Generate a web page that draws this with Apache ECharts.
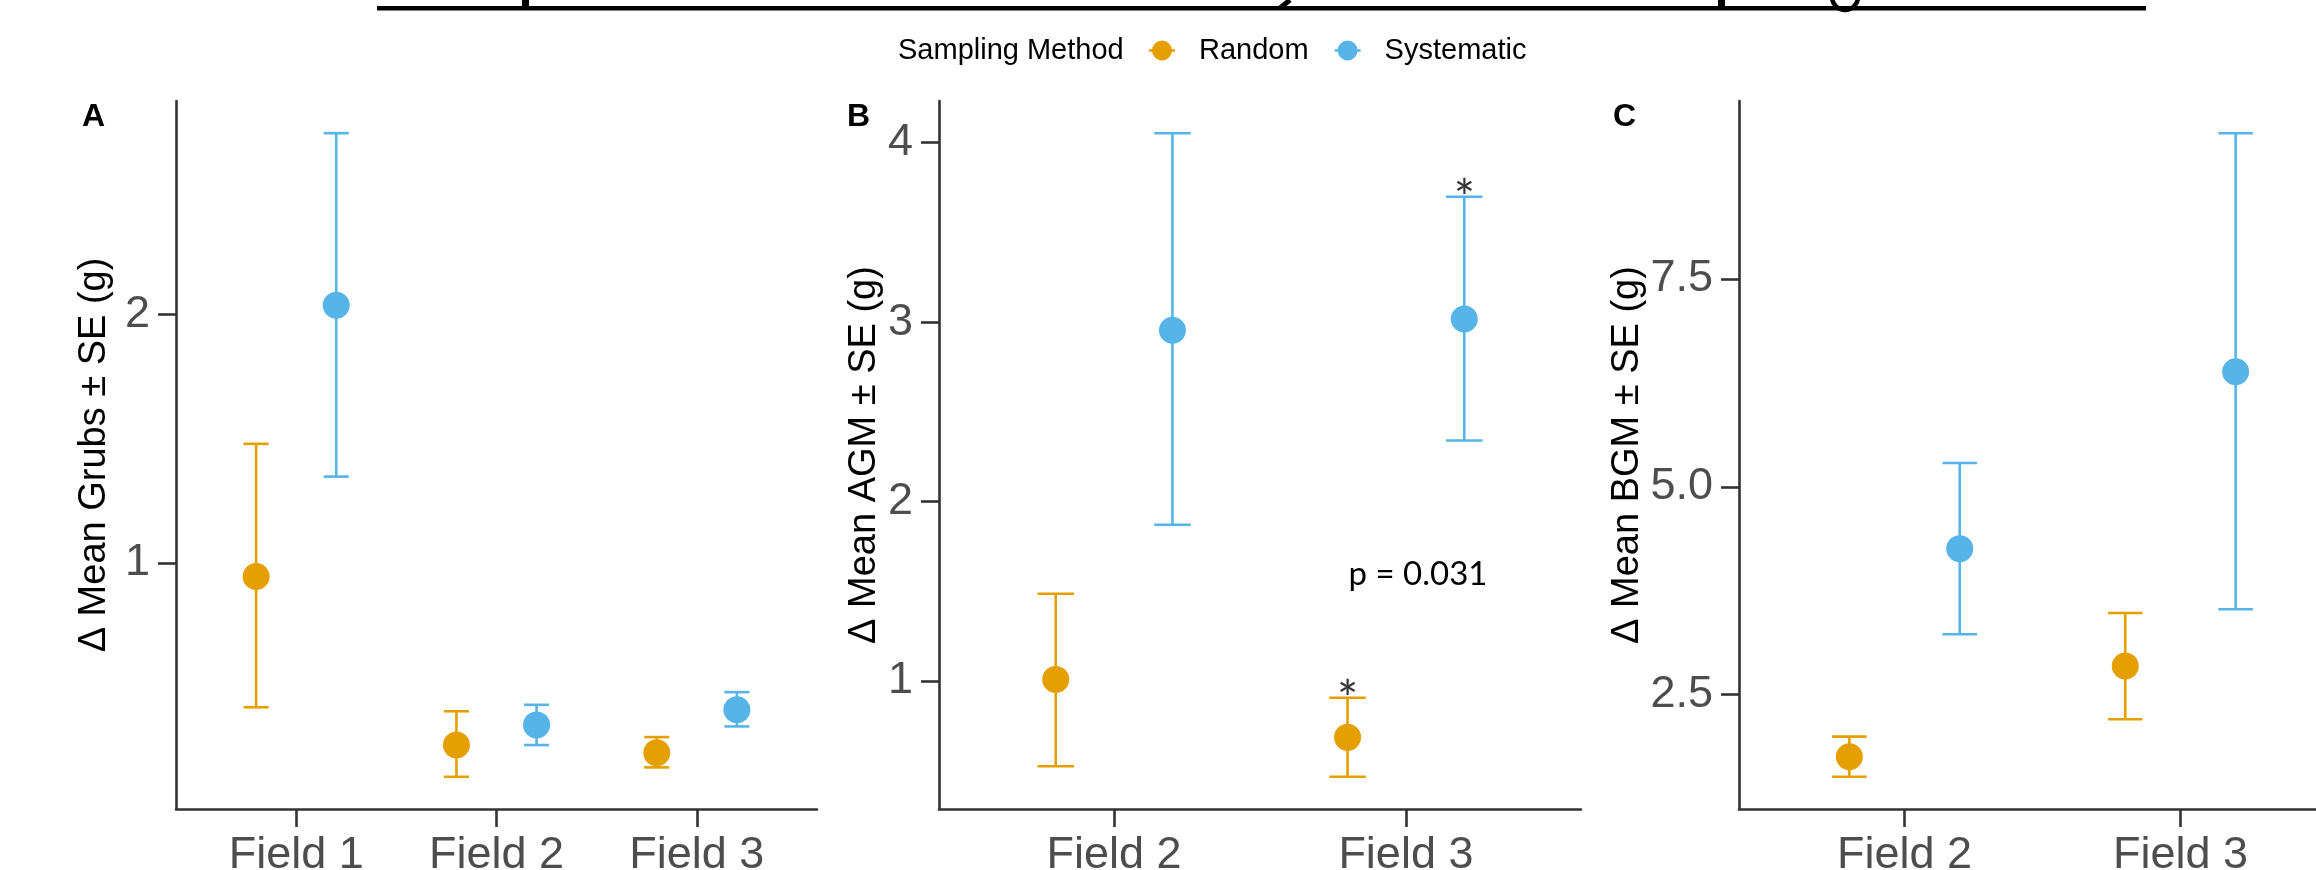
<!DOCTYPE html>
<html>
<head>
<meta charset="utf-8">
<script src="https://cdn.jsdelivr.net/npm/echarts@6/dist/echarts.min.js"></script>
<style>
  html, body { margin: 0; padding: 0; background: #fff; }
  #chart { width: 2316px; height: 870px; }
</style>
</head>
<body>
<div id="chart"></div>
<script>
// ---------------- DATA ----------------
const fieldsA = ['Field 1', 'Field 2', 'Field 3'];
const fieldsBC = ['Field 2', 'Field 3'];
const methods = ['Random', 'Systematic'];

// Panel A: Δ Mean Grubs ± SE (g)
const grubsRandomMean = [0.945, 0.266, 0.235];
const grubsRandomLow  = [0.418, 0.138, 0.176];
const grubsRandomHigh = [1.479, 0.402, 0.298];
const grubsSystMean   = [2.037, 0.347, 0.408];
const grubsSystLow    = [1.347, 0.266, 0.341];
const grubsSystHigh   = [2.730, 0.428, 0.479];

// Panel B: Δ Mean AGM ± SE (g)
const agmRandomMean = [1.009, 0.686];
const agmRandomLow  = [0.525, 0.466];
const agmRandomHigh = [1.486, 0.907];
const agmSystMean   = [2.955, 3.017];
const agmSystLow    = [1.871, 2.340];
const agmSystHigh   = [4.053, 3.699];

// Panel C: Δ Mean BGM ± SE (g)
const bgmRandomMean = [1.754, 2.845];
const bgmRandomLow  = [1.512, 2.205];
const bgmRandomHigh = [1.995, 3.483];
const bgmSystMean   = [4.256, 6.383];
const bgmSystLow    = [3.227, 3.528];
const bgmSystHigh   = [5.286, 9.253];

// Tick labels
const yTicksA = [1, 2];
const yTicksB = [1, 2, 3, 4];
const yTicksC = [2.5, 5.0, 7.5];

// Significance annotations (panel B, Field 3)
const starFlagsRandomB = [false, true];
const starFlagsSystB   = [false, true];
const pValueText = 'p = 0.031';

// ---------------- STYLE ----------------
const ORANGE = '#E69F00';
const BLUE = '#56B4E9';
const AXIS_COLOR = '#333333';
const LABEL_COLOR = '#4D4D4D';
const FONT = '"Liberation Sans", Arial, sans-serif';
const DODGE = 0.2;
const CAP_HALF = 0.0625;

const chart = echarts.init(document.getElementById('chart'), null, { renderer: 'canvas' });

function yRange(lows, highs) {
  const lo = Math.min(...lows), hi = Math.max(...highs);
  const pad = (hi - lo) * 0.05;
  return [lo - pad, hi + pad];
}

const panels = [
  { fields: fieldsA, title: 'Δ Mean Grubs ± SE (g)', ticks: yTicksA, fmt: v => String(v), nameGap: 62,
    grid: { left: 176, right: 1499, top: 101, bottom: 61 },
    r: [grubsRandomMean, grubsRandomLow, grubsRandomHigh], s: [grubsSystMean, grubsSystLow, grubsSystHigh] },
  { fields: fieldsBC, title: 'Δ Mean AGM ± SE (g)', ticks: yTicksB, fmt: v => String(v), nameGap: 55,
    grid: { left: 939, right: 735, top: 101, bottom: 61 },
    r: [agmRandomMean, agmRandomLow, agmRandomHigh], s: [agmSystMean, agmSystLow, agmSystHigh] },
  { fields: fieldsBC, title: 'Δ Mean BGM ± SE (g)', ticks: yTicksC, fmt: v => v.toFixed(1), nameGap: 92,
    grid: { left: 1739, right: -30, top: 101, bottom: 61 },
    r: [bgmRandomMean, bgmRandomLow, bgmRandomHigh], s: [bgmSystMean, bgmSystLow, bgmSystHigh] }
];

const grids = [], xAxes = [], yAxes = [], series = [];

function errorBarRender(color) {
  return function (params, api) {
    const x = api.value(0), lo = api.value(1), hi = api.value(2);
    const pTop = api.coord([x, hi]);
    const pBot = api.coord([x, lo]);
    const half = api.coord([x + CAP_HALF, hi])[0] - pTop[0];
    const st = { stroke: color, lineWidth: 2.6 };
    return {
      type: 'group',
      children: [
        { type: 'line', shape: { x1: pTop[0], y1: pTop[1], x2: pBot[0], y2: pBot[1] }, style: st },
        { type: 'line', shape: { x1: pTop[0] - half, y1: pTop[1], x2: pTop[0] + half, y2: pTop[1] }, style: st },
        { type: 'line', shape: { x1: pBot[0] - half, y1: pBot[1], x2: pBot[0] + half, y2: pBot[1] }, style: st }
      ]
    };
  };
}

panels.forEach((p, i) => {
  const n = p.fields.length;
  const [ymin, ymax] = yRange(p.r[1].concat(p.s[1]), p.r[2].concat(p.s[2]));
  const cats = p.fields.map((_, k) => k + 1);
  grids.push(Object.assign({ containLabel: false, outerBoundsMode: 'none' }, p.grid));
  xAxes.push({
    type: 'value', gridIndex: i, min: 0.4, max: n + 0.6,
    axisLine: { show: true, onZero: false, lineStyle: { color: AXIS_COLOR, width: 2.6 } },
    axisTick: { show: true, customValues: cats, length: 18, lineStyle: { color: AXIS_COLOR, width: 2.6 } },
    axisLabel: { show: true, customValues: cats, formatter: v => p.fields[Math.round(v) - 1],
      fontSize: 45, color: LABEL_COLOR, fontFamily: FONT, margin: 24 },
    splitLine: { show: false }
  });
  yAxes.push({
    type: 'value', gridIndex: i, min: ymin, max: ymax,
    name: p.title, nameLocation: 'middle', nameRotate: 90, nameGap: p.nameGap,
    nameTextStyle: { fontSize: 38, color: '#000', fontFamily: FONT },
    axisLine: { show: true, onZero: false, lineStyle: { color: AXIS_COLOR, width: 2.6 } },
    axisTick: { show: true, customValues: p.ticks, length: 18, lineStyle: { color: AXIS_COLOR, width: 2.6 } },
    axisLabel: { show: true, customValues: p.ticks, formatter: p.fmt,
      fontSize: 45, color: LABEL_COLOR, fontFamily: FONT, margin: 26 },
    splitLine: { show: false }
  });
  [[p.r, -DODGE, ORANGE, methods[0]], [p.s, DODGE, BLUE, methods[1]]].forEach(([arr, off, color, name]) => {
    const [mean, low, high] = arr;
    series.push({
      type: 'custom', name: name, xAxisIndex: i, yAxisIndex: i,
      renderItem: errorBarRender(color),
      encode: { x: 0, y: [1, 2] },
      itemStyle: { color: color },
      data: mean.map((_, k) => [k + 1 + off, low[k], high[k]]),
      z: 2, silent: true
    });
    series.push({
      type: 'scatter', name: name, xAxisIndex: i, yAxisIndex: i,
      symbol: 'circle', symbolSize: 27,
      itemStyle: { color: color, opacity: 1 },
      data: mean.map((v, k) => [k + 1 + off, v]),
      z: 3, silent: true
    });
  });
});

// asterisks above the starred error bars in panel B
function starSeries(flags, high, off) {
  return {
    type: 'scatter', xAxisIndex: 1, yAxisIndex: 1, symbol: 'circle', symbolSize: 1,
    itemStyle: { color: 'rgba(0,0,0,0)' }, silent: true, z: 5,
    label: { show: true, position: 'inside', formatter: '*', offset: [0, 3],
      fontSize: 50, color: '#000', fontFamily: 'Lato, "Open Sans", sans-serif' },
    data: high.map((v, k) => [k + 1 + off, v]).filter((_, k) => flags[k])
  };
}
series.push(starSeries(starFlagsRandomB, agmRandomHigh, -DODGE));
series.push(starSeries(starFlagsSystB, agmSystHigh, DODGE));

const legendIcon = 'path://M0,8.7H3.4V11.3H0Z M22.6,8.7H26V11.3H22.6Z M23,10A10,10,0,1,1,3,10A10,10,0,1,1,23,10Z';

const option = {
  animation: false,
  backgroundColor: '#ffffff',
  grid: grids,
  xAxis: xAxes,
  yAxis: yAxes,
  series: series,
  legend: {
    left: 1144, top: 31, itemWidth: 26, itemHeight: 20, itemGap: 26,
    selectedMode: false,
    textStyle: { fontSize: 29, color: '#000', fontFamily: FONT, padding: [0, 0, 0, 19] },
    data: [
      { name: methods[0], icon: legendIcon, itemStyle: { color: ORANGE } },
      { name: methods[1], icon: legendIcon, itemStyle: { color: BLUE } }
    ]
  },
  graphic: [
    // clipped, underlined title fragments at the top edge
    { type: 'rect', shape: { x: 377, y: 6, width: 1769, height: 4.4 }, style: { fill: '#000' } },
    { type: 'rect', shape: { x: 522, y: 0, width: 7, height: 8 }, style: { fill: '#000' } },
    { type: 'line', shape: { x1: 1290, y1: 0, x2: 1280, y2: 8 }, style: { stroke: '#000', lineWidth: 5 } },
    { type: 'rect', shape: { x: 1718, y: 0, width: 7, height: 8 }, style: { fill: '#000' } },
    { type: 'arc', shape: { cx: 1845, cy: -3, r: 13, startAngle: 0, endAngle: Math.PI, clockwise: true },
      style: { stroke: '#000', lineWidth: 4.5, fill: null } },
    // legend title
    { type: 'text', x: 898, y: 51, style: { text: 'Sampling Method', fontSize: 29, fill: '#000',
      fontFamily: FONT, textAlign: 'left', textVerticalAlign: 'middle' } },
    // panel tags
    { type: 'text', x: 82, y: 117, style: { text: 'A', fontSize: 32, fontWeight: 'bold', fill: '#000',
      fontFamily: FONT, textAlign: 'left', textVerticalAlign: 'middle' } },
    { type: 'text', x: 847, y: 117, style: { text: 'B', fontSize: 32, fontWeight: 'bold', fill: '#000',
      fontFamily: FONT, textAlign: 'left', textVerticalAlign: 'middle' } },
    { type: 'text', x: 1613, y: 117, style: { text: 'C', fontSize: 32, fontWeight: 'bold', fill: '#000',
      fontFamily: FONT, textAlign: 'left', textVerticalAlign: 'middle' } },
    // p-value annotation
    { type: 'text', x: 1418, y: 574, style: { text: pValueText, fontSize: 33, fill: '#000',
      fontFamily: 'Lato, "Open Sans", sans-serif', textAlign: 'center', textVerticalAlign: 'middle' } }
  ]
};

chart.setOption(option);
</script>
</body>
</html>
